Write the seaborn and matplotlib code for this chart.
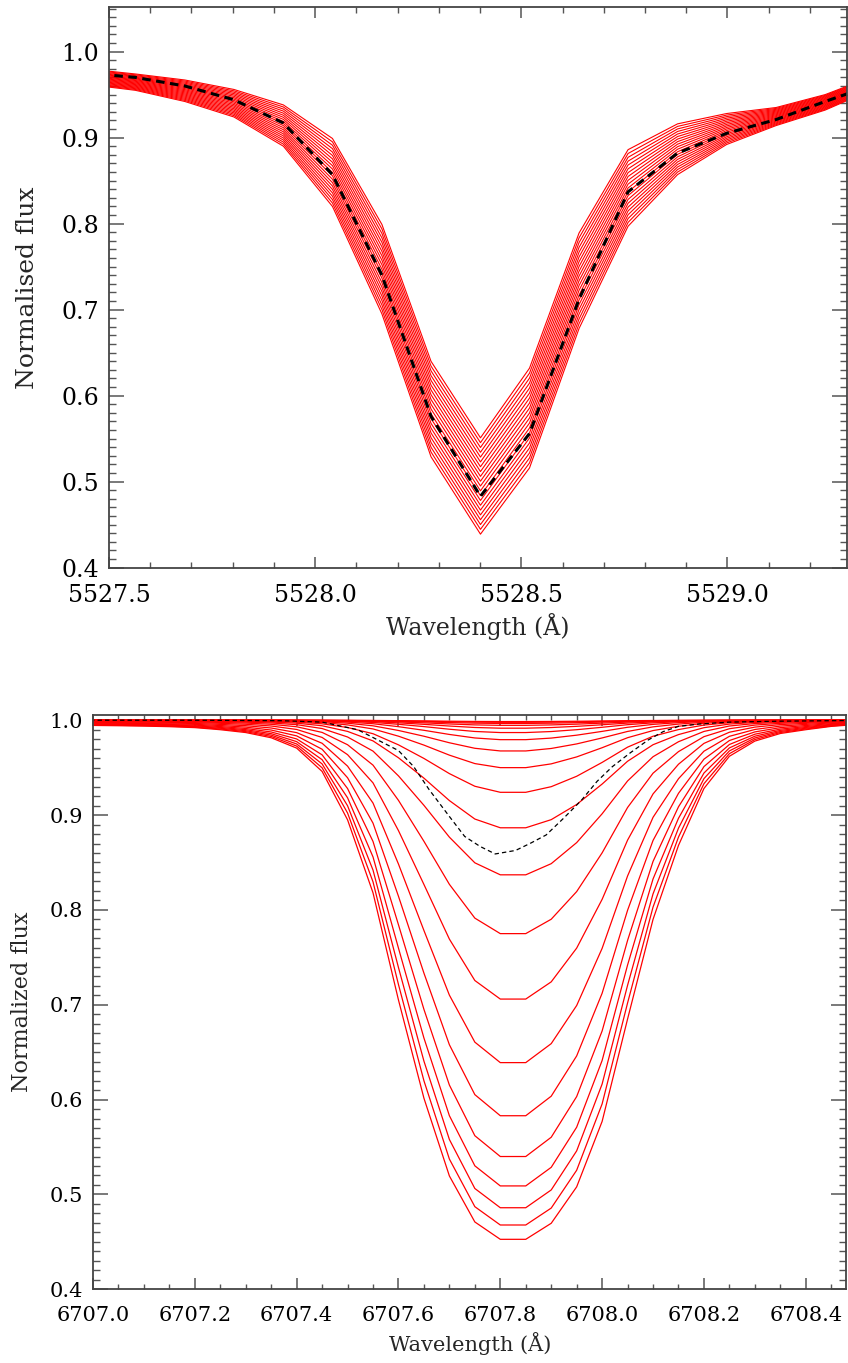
import numpy as np
import pandas as pd
import matplotlib
matplotlib.use("Agg")
import matplotlib.pyplot as plt
from matplotlib.ticker import MultipleLocator, FormatStrFormatter
import seaborn as sns

# ---------------- data: top panel (Fe line region) ----------------
top_wavelength = [5527.445, 5527.564, 5527.684, 5527.803, 5527.923, 5528.042,
                  5528.162, 5528.281, 5528.401, 5528.520, 5528.640, 5528.759,
                  5528.879, 5528.998, 5529.118, 5529.237, 5529.357]
# weakest and strongest model of the grid
top_weakest = [0.980, 0.974, 0.967, 0.956, 0.938, 0.899, 0.799, 0.640, 0.551,
               0.632, 0.789, 0.886, 0.916, 0.928, 0.935, 0.950, 0.972]
top_strongest = [0.962, 0.955, 0.942, 0.924, 0.890, 0.820, 0.695, 0.529, 0.439,
                 0.516, 0.678, 0.797, 0.857, 0.892, 0.914, 0.932, 0.957]
# abundance offsets of the model grid (dex)
top_offsets = [-0.50, -0.45, -0.40, -0.35, -0.30, -0.25, -0.20, -0.15, -0.10, -0.05,
               0.00, 0.05, 0.10, 0.15, 0.20, 0.25, 0.30, 0.35, 0.40, 0.45, 0.50]
top_observed = [0.975, 0.970, 0.960, 0.944, 0.917, 0.857, 0.740, 0.576, 0.483,
                0.556, 0.712, 0.837, 0.882, 0.905, 0.921, 0.942, 0.962]

# ---------------- data: bottom panel (Li 6708 region) ----------------
bot_wavelength = [6706.95, 6707.00, 6707.05, 6707.10, 6707.15, 6707.20, 6707.25,
                  6707.30, 6707.35, 6707.40, 6707.45, 6707.50, 6707.55, 6707.60,
                  6707.65, 6707.70, 6707.75, 6707.80, 6707.85, 6707.90, 6707.95,
                  6708.00, 6708.05, 6708.10, 6708.15, 6708.20, 6708.25, 6708.30,
                  6708.35, 6708.40, 6708.45, 6708.50]
# strongest Li model
bot_strongest = [0.9948, 0.9945, 0.9942, 0.9938, 0.9932, 0.9922, 0.9900, 0.9870,
                 0.9815, 0.9706, 0.946, 0.895, 0.818, 0.705, 0.6015, 0.5195,
                 0.471, 0.4527, 0.4527, 0.4696, 0.508, 0.577, 0.685, 0.790,
                 0.868, 0.928, 0.962, 0.978, 0.986, 0.990, 0.9935, 0.9955]
# line-core flux of every Li model
bot_core_flux = [0.4527, 0.4678, 0.486, 0.509, 0.540, 0.583, 0.639, 0.706, 0.775,
                 0.837, 0.8866, 0.924, 0.950, 0.9676, 0.9795, 0.987, 0.9916,
                 0.9946, 0.9966, 0.9978, 0.9986]
bot_max_depth = 0.65
bot_obs_wavelength = [6706.95, 6707.20, 6707.37, 6707.45, 6707.52, 6707.56, 6707.60,
                      6707.63, 6707.66, 6707.70, 6707.73, 6707.76, 6707.79, 6707.83,
                      6707.86, 6707.89, 6707.925, 6707.96, 6707.99, 6708.02,
                      6708.055, 6708.09, 6708.12, 6708.15, 6708.19, 6708.25,
                      6708.35, 6708.55]
bot_observed = [1.0, 1.0, 0.9995, 0.998, 0.990, 0.979, 0.968, 0.951, 0.927, 0.8985,
                0.8775, 0.867, 0.859, 0.8627, 0.8705, 0.879, 0.897, 0.916, 0.9355,
                0.951, 0.9655, 0.979, 0.988, 0.9935, 0.996, 0.998, 0.999, 1.0]

# ---------------- build model tables ----------------
tw = np.array(top_weakest)
ts = np.array(top_strongest)
off = np.array(top_offsets)
frac = (off - off.min()) / (off.max() - off.min())
rows = []
for i, f in enumerate(frac):
    flux = tw + (ts - tw) * f
    for w, v in zip(top_wavelength, flux):
        rows.append((i, w, v))
top_df = pd.DataFrame(rows, columns=["model", "wavelength", "flux"])

bs = np.array(bot_strongest)
A = bot_max_depth
base = 1.0 - (1.0 - bs) / A
ln_core_deep = np.log(1.0 - (1.0 - bot_core_flux[0]) / A)
rows = []
for i, c in enumerate(bot_core_flux):
    k = np.log(1.0 - (1.0 - c) / A) / ln_core_deep
    flux = 1.0 - A * (1.0 - base ** k)
    for w, v in zip(bot_wavelength, flux):
        rows.append((i, w, v))
bot_df = pd.DataFrame(rows, columns=["model", "wavelength", "flux"])

# ---------------- plotting ----------------
sns.set_theme(style="ticks")
plt.rcParams["font.family"] = ["DejaVu Serif", "DejaVu Sans"]
plt.rcParams["axes.edgecolor"] = "#444444"
plt.rcParams["axes.linewidth"] = 1.3

fig = plt.figure(figsize=(8.48, 13.63), dpi=100)
ax1 = fig.add_axes([0.12854, 0.58349, 0.87028, 0.41115])
ax2 = fig.add_axes([0.10967, 0.05407, 0.88856, 0.42135])

RED = "#ff0000"

# top panel
sns.lineplot(data=top_df, x="wavelength", y="flux", units="model", estimator=None,
             sort=False, color=RED, linewidth=0.8, ax=ax1)
sns.lineplot(x=top_wavelength, y=top_observed, sort=False, color="black",
             linewidth=2.2, ax=ax1)
ax1.get_lines()[-1].set_linestyle((0, (2.8, 1.8)))
ax1.set_xlim(5527.5, 5529.29)
ax1.set_ylim(0.4, 1.0515)
ax1.xaxis.set_major_locator(MultipleLocator(0.5))
ax1.xaxis.set_minor_locator(MultipleLocator(0.1))
ax1.yaxis.set_major_locator(MultipleLocator(0.1))
ax1.yaxis.set_minor_locator(MultipleLocator(0.01))
ax1.xaxis.set_major_formatter(FormatStrFormatter("%.1f"))
ax1.yaxis.set_major_formatter(FormatStrFormatter("%.1f"))
ax1.set_xlabel("Wavelength (Å)", fontsize=17)
ax1.set_ylabel("Normalised flux", fontsize=18)
ax1.xaxis.set_label_coords(0.5, -0.080)
ax1.yaxis.set_label_coords(-0.095, 0.5)

# bottom panel
sns.lineplot(data=bot_df, x="wavelength", y="flux", units="model", estimator=None,
             sort=False, color=RED, linewidth=0.9, ax=ax2)
sns.lineplot(x=bot_obs_wavelength, y=bot_observed, sort=False, color="black",
             linewidth=0.9, ax=ax2)
ax2.get_lines()[-1].set_linestyle((0, (3.5, 2.5)))
ax2.set_xlim(6707.0, 6708.48)
ax2.set_ylim(0.4, 1.0055)
ax2.xaxis.set_major_locator(MultipleLocator(0.2))
ax2.xaxis.set_minor_locator(MultipleLocator(0.05))
ax2.yaxis.set_major_locator(MultipleLocator(0.1))
ax2.yaxis.set_minor_locator(MultipleLocator(0.01))
ax2.xaxis.set_major_formatter(FormatStrFormatter("%.1f"))
ax2.yaxis.set_major_formatter(FormatStrFormatter("%.1f"))
ax2.set_xlabel("Wavelength (Å)", fontsize=15)
ax2.set_ylabel("Normalized flux", fontsize=16)
ax2.xaxis.set_label_coords(0.5, -0.075)
ax2.yaxis.set_label_coords(-0.080, 0.5)

for ax, fs, ymaj, ymin, xmaj, xmin in ((ax1, 17, 10.5, 5, 8, 4), (ax2, 15, 11, 5, 8, 3.3)):
    ax.tick_params(which="both", direction="in", bottom=True, left=True,
                   top=True, right=True, colors="#555555", labelcolor="black",
                   width=1.1)
    ax.tick_params(axis="x", which="major", length=xmaj, pad=12, labelsize=fs)
    ax.tick_params(axis="x", which="minor", length=xmin, width=1.0)
    ax.tick_params(axis="y", which="major", length=ymaj, pad=7, labelsize=fs)
    ax.tick_params(axis="y", which="minor", length=ymin, width=1.0)
    for s in ax.spines.values():
        s.set_visible(True)
        s.set_color("#444444")
        s.set_linewidth(1.3)

fig.savefig("out.png", dpi=100)
